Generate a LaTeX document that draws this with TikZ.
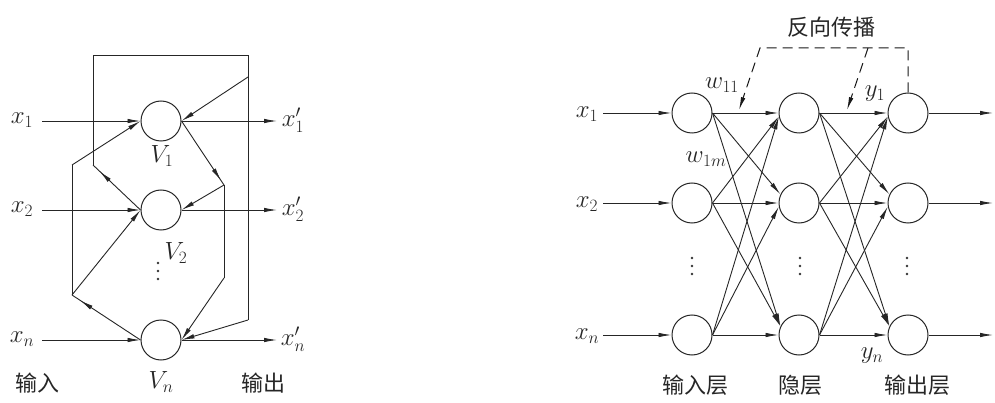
\documentclass[tikz,border=0pt]{standalone}
\usepackage{fontspec}
\newfontfamily\cjk{Noto Sans CJK SC}
\usetikzlibrary{arrows.meta,decorations.markings}
\tikzset{
  neuron/.style={circle,draw=black!85,line width=1pt,minimum size=40pt,inner sep=0pt},
  conn/.style={draw=black!85,line width=0.9pt},
  arr/.style={conn,-{Latex[length=13pt,width=4.5pt]}},
  nearend/.style={postaction={decorate},decoration={markings,mark=at position #1 with {\arrow{Latex[length=13pt,width=4.5pt]}}}},
  dsh/.style={draw=black!90,line width=1pt,dash pattern=on 10pt off 6pt},
  lab/.style={font=\fontsize{25}{28}\selectfont,inner sep=0pt,text=black!85},
  labs/.style={font=\fontsize{23}{26}\selectfont,inner sep=0pt,text=black!85},
  vdot/.style={circle,fill=black!80,inner sep=0pt,minimum size=2.6pt},
  cjklab/.style={font=\cjk\fontsize{22}{24}\selectfont,inner sep=0pt,text=black!85},
}
\newcommand{\vdotsat}[2]{%
  \node[vdot] at (#1,#2-8) {};
  \node[vdot] at (#1,#2) {};
  \node[vdot] at (#1,#2+8) {};}
\begin{document}
\begin{tikzpicture}[x=1pt,y=-1pt]
\useasboundingbox[fill=white] (0,0) rectangle (995,403);
% ---------------- left network ----------------
\node[neuron] (V1) at (161,121) {};
\node[neuron] (V2) at (161,210) {};
\node[neuron] (V3) at (161,340) {};
\node[lab] (lx1) at (22,120) {$x_1$};
\node[lab] (lx2) at (22,209) {$x_2$};
\node[lab] (lx3) at (22,339) {$x_n$};
\node[lab] (ly1) at (293,120) {$x_1'$};
\node[lab] (ly2) at (293,209) {$x_2'$};
\node[lab] (ly3) at (293,339) {$x_n'$};
\coordinate (i1) at (42,121); \coordinate (i2) at (42,210); \coordinate (i3) at (42,340);
\coordinate (o1) at (277,121); \coordinate (o2) at (277,210); \coordinate (o3) at (277,340);
\foreach \k in {1,2,3}{
  \draw[arr] (i\k) -- (V\k.west);
  \draw[arr] (V\k.east) -- (o\k);
}
\coordinate (a1) at (72,165); \coordinate (a2) at (72,295);
\coordinate (b1) at (93,165); \coordinate (b2) at (93,55); \coordinate (b3) at (248,55);
\coordinate (b4) at (248,320); \coordinate (b5) at (248,77);
\coordinate (c1) at (224,185); \coordinate (c2) at (224,278);
\draw[arr] (a1) -- (V1.west);
\draw[arr] (a2) -- (V2.west);
\draw[conn] (a2) -- (a1);
\draw[conn,nearend=0.86] (V2.west) -- (b1);
\draw[conn,nearend=0.88] (V3.west) -- (a2);
\draw[conn] (b1) -- (b2) -- (b3) -- (b4);
\draw[arr] (b4) -- (V3.east);
\draw[arr] (b5) -- (V1.east);
\draw[conn,nearend=0.93] (V1.east) -- (c1);
\draw[arr] (c1) -- (V2.east);
\draw[conn] (c1) -- (c2);
\draw[arr] (c2) -- (V3.east);
\node[labs] (lv1) at (162,156) {$V_1$};
\node[labs] (lv2) at (176,253) {$V_2$};
\vdotsat{158}{271}
\node[labs] (lv3) at (161,382) {$V_n$};
\node[cjklab] (lin) at (37,383) {输入};
\node[cjklab] (lout) at (263,383) {输出};
% ---------------- right network ----------------
\foreach \k/\y in {1/113,2/203,3/335}{
  \node[neuron] (I\k) at (692,\y) {};
  \node[neuron] (H\k) at (799,\y) {};
  \node[neuron] (O\k) at (908,\y) {};
  \coordinate (ri\k) at (603,\y);
  \coordinate (ro\k) at (993,\y);
  \draw[arr] (ri\k) -- (I\k.west);
  \draw[arr] (O\k.east) -- (ro\k);
}
\node[lab] (rx1) at (587,114) {$x_1$};
\node[lab] (rx2) at (587,204) {$x_2$};
\node[lab] (rx3) at (587,336) {$x_n$};
\foreach \i in {1,2,3}{\foreach \j in {1,2,3}{
  \ifnum\i=\j \def\anc{west}\else\ifnum\i>\j \def\anc{190}\else\def\anc{155}\fi\fi
  \draw[arr] (I\i.east) -- (H\j.\anc);
  \draw[arr] (H\i.east) -- (O\j.\anc);
}}
\coordinate (d2) at (908,48); \coordinate (d3) at (760,48); \coordinate (d4) at (739,110);
\coordinate (d5) at (868,48); \coordinate (d6) at (847,110);
\draw[dsh,-{Latex[length=13pt,width=4.5pt]}] (O1.north) -- (d2) -- (d3) -- (d4);
\draw[dsh,-{Latex[length=13pt,width=4.5pt]}] (d5) -- (d6);
\node[cjklab] (bp) at (831,27) {反向传播};
\node[labs] (w11) at (722,85) {$w_{11}$};
\node[labs] (w1m) at (706,159) {$w_{1m}$};
\node[labs] (ry1) at (875,94) {$y_1$};
\node[labs] (ryn) at (872,356) {$y_n$};
\vdotsat{692}{266}
\vdotsat{800}{266}
\vdotsat{907}{266}
\node[cjklab] (l1) at (695,385) {输入层};
\node[cjklab] (l2) at (800,385) {隐层};
\node[cjklab] (l3) at (917,385) {输出层};
\end{tikzpicture}
\end{document}
